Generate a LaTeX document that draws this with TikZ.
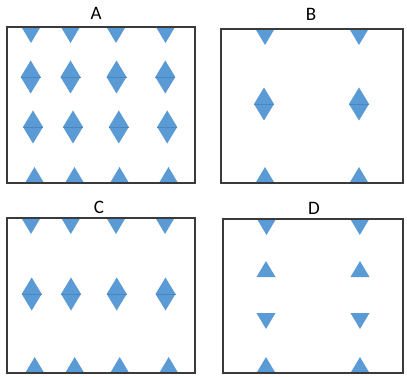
\documentclass[tikz,border=0pt]{standalone}
\usepackage{fontspec}
\setmainfont{Carlito}
\definecolor{tblue}{HTML}{5B9BD5}
\definecolor{tline}{HTML}{4A86C0}
\definecolor{frame}{HTML}{3A3A3A}
\tikzset{
  shp/.style={fill=tblue, draw=none},
  framebox/.style={draw=frame, line width=1.5pt},
  lbl/.style={font=\fontsize{19}{19}\selectfont, text=black, inner sep=0pt}
}
% down triangle: base at y, apex below
\newcommand{\dtri}[2]{\fill[shp] (#1-9.5,#2) -- (#1+9.5,#2) -- (#1,#2+16) -- cycle;}
% up triangle: base at y, apex above
\newcommand{\utri}[2]{\fill[shp] (#1-9.5,#2) -- (#1+9.5,#2) -- (#1,#2-16) -- cycle;}
% diamond centred at (x,y)
\newcommand{\dmd}[2]{\fill[shp] (#1-10,#2) -- (#1,#2-16.5) -- (#1+10,#2) -- (#1,#2+16.5) -- cycle;
  \draw[tline, line width=0.4pt] (#1-10,#2) -- (#1+10,#2);}
\begin{document}
\begin{tikzpicture}[x=1pt,y=-1pt]
\useasboundingbox (0,0) rectangle (407,377);
\fill[white] (0,0) rectangle (407,377);
% ---------- A ----------
\foreach \x in {31,70.5,116,165.5} {\dtri{\x}{27}}
\foreach \x in {30.7,70.5,116.5,165.3} {\dmd{\x}{77}}
\foreach \x in {33,73,118.8,167.2} {\dmd{\x}{127}}
\foreach \x in {34.5,74.5,119.5,168.5} {\utri{\x}{183}}
\draw[framebox] (7,27) rectangle (195,183);
\node[lbl] (la) at (96,13) {A};
% ---------- B ----------
\foreach \x in {265,359} {\dtri{\x}{29}}
\foreach \x in {264,359} {\dmd{\x}{104}}
\foreach \x in {265,359} {\utri{\x}{183}}
\draw[framebox] (221,29) rectangle (403,183);
\node[lbl] (lb) at (311,14) {B};
% ---------- C ----------
\foreach \x in {31,70.8,116,165} {\dtri{\x}{218}}
\foreach \x in {31.7,71,116.7,165.5} {\dmd{\x}{294}}
\foreach \x in {34.7,74.7,119.7,168.7} {\utri{\x}{373}}
\draw[framebox] (7,218) rectangle (195,373);
\node[lbl] (lc) at (99,207) {C};
% ---------- D ----------
\foreach \x in {266.5,359.8} {\dtri{\x}{219}}
\foreach \x in {266,360} {\utri{\x}{277}}
\foreach \x in {266,360} {\dtri{\x}{313}}
\foreach \x in {266,360} {\utri{\x}{373}}
\draw[framebox] (223,219) rectangle (403,373);
\node[lbl] (ld) at (314,208) {D};
\end{tikzpicture}
\end{document}
